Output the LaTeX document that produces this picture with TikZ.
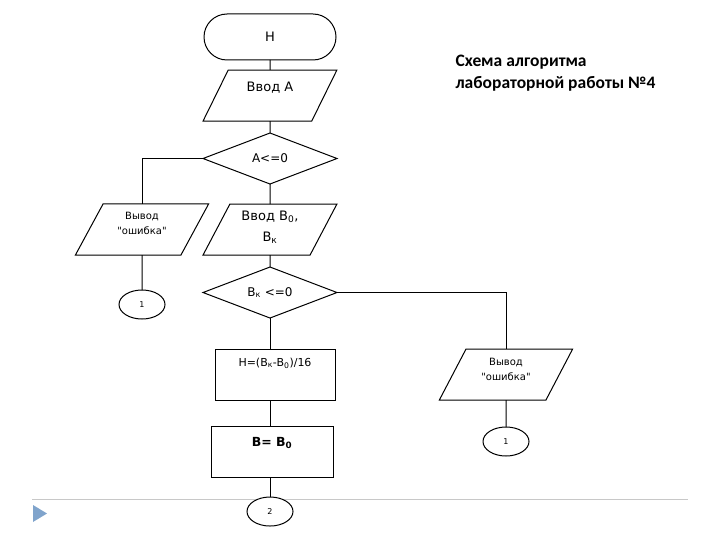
\documentclass[tikz,border=0pt]{standalone}
\usepackage{fontspec}
\setmainfont{DejaVu Sans}[Ligatures=TeXOff]
\newfontfamily\titlefont{Carlito}
\usetikzlibrary{positioning, shapes.geometric}

\definecolor{bulletblue}{RGB}{128,164,204}
\definecolor{rulegray}{RGB}{200,200,200}

\begin{document}
\begin{tikzpicture}[
		x=1pt, y=-1pt,
		node distance=12pt and 12pt,
		base/.style={draw=black, line width=1pt, fill=white, inner sep=0pt, outer sep=0pt, align=center, font=\fontsize{13}{15}\selectfont},
		term/.style={base, rectangle, rounded corners=23pt, minimum width=132pt, minimum height=46pt},
		io/.style={base, trapezium, trapezium left angle=63, trapezium right angle=117, trapezium stretches=true, minimum width=134pt, minimum height=51pt},
		decision/.style={base, diamond, aspect=2.6, minimum width=134pt, minimum height=51pt, font=\fontsize{12}{14}\selectfont},
		proc/.style={base, rectangle, minimum width=120pt, minimum height=51pt},
		conn/.style={base, ellipse, minimum width=46pt, minimum height=29pt, font=\fontsize{8}{10}\selectfont},
		small/.style={font=\fontsize{10}{15}\selectfont},
		line/.style={line width=1pt}
		]
		\useasboundingbox (0,0) rectangle (720,540);
		
		% Slide decoration
		\draw[rulegray, line width=1pt] (32,499) -- (688,499);
		\fill[bulletblue] (33,505) -- (47,513.5) -- (33,522) -- cycle;
		
		% Title
		\node[anchor=north west, align=left, font=\titlefont\bfseries\fontsize{17.5}{22}\selectfont] (title) at (452,51) {Схема алгоритма\\лабораторной работы №4};
		
		% Main column
		\node[term] (start) at (270,37) {Н};
		\node[io, below=10pt of start, text depth=18pt] (inA) {Ввод А};
		\node[decision, below=12pt of inA] (chkA) {A<=0};
		\node[io, below=20pt of chkA, text depth=7pt] (inB) {Ввод B\textsubscript{0},\\[6pt]B\textsubscript{к}};
		\node[decision, below=12pt of inB] (chkB) {B\textsubscript{к} <=0};
		\node[proc, below=31pt of chkB, xshift=5pt, font=\fontsize{11}{13}\selectfont, text depth=25pt] (step) {Н=(B\textsubscript{к}-B\textsubscript{0})/16};
		\node[proc, below=26pt of step, xshift=-3pt, minimum width=122pt, font=\bfseries\fontsize{12.5}{15}\selectfont, text depth=19pt] (init) {B= B\textsubscript{0}};
		\node[conn, below=20pt of init, xshift=-2pt] (next) {2};
		
		% Error branches
		\node[io, small, text depth=12pt] (err1) at (142,229.5) {Вывод\\"ошибка"};
		\node[conn, below=35pt of err1] (c1) {1};
		\node[io, small, text depth=10pt] (err2) at (506,374.5) {Вывод\\"ошибка"};
		\node[conn, below=27pt of err2] (c2) {1};
		
		% Connectors
		\draw[line] (start) -- (inA);
		\draw[line] (inA) -- (chkA);
		\draw[line] (chkA) -- (inB);
		\draw[line] (inB) -- (chkB);
		\draw[line] (chkB) -- (chkB |- step.north);
		\draw[line] (step.south -| chkB) -- (init.north -| chkB);
		\draw[line] (init.south -| chkB) -- (next);
		\draw[line] (chkA.west) -| (err1);
		\draw[line] (err1) -- (c1);
		\draw[line] (chkB.east) -| (err2);
		\draw[line] (err2) -- (c2);
		
	\end{tikzpicture}
\end{document}
